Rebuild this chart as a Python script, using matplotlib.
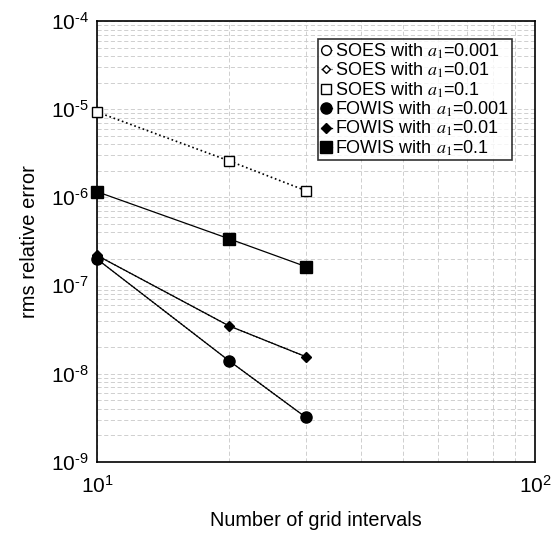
import matplotlib
matplotlib.use("Agg")
import matplotlib.pyplot as plt
from matplotlib.ticker import LogLocator, NullFormatter, FuncFormatter, FixedLocator
import math

plt.rcParams['font.family'] = ['Liberation Sans', 'DejaVu Sans']
plt.rcParams['mathtext.fontset'] = 'stix'

grid_n = [10, 20, 30]
soes_a0001 = [2.0e-7, 1.41e-8, 3.2e-9]
soes_a001 = [2.2e-7, 3.5e-8, 1.56e-8]
soes_a01 = [9.3e-6, 2.6e-6, 1.19e-6]
fowis_a0001 = [2.0e-7, 1.41e-8, 3.2e-9]
fowis_a001 = [2.2e-7, 3.5e-8, 1.56e-8]
fowis_a01 = [1.16e-6, 3.4e-7, 1.64e-7]
x_ticks = [1e1, 1e2]
y_ticks = [1e-9, 1e-8, 1e-7, 1e-6, 1e-5, 1e-4]

fig = plt.figure(figsize=(5.53, 5.38), dpi=100)
ax = fig.add_axes([0.1754, 0.1413, 0.7921, 0.8197])

lw = 0.9
ax.plot(grid_n, soes_a0001, ls=':', color='black', lw=lw, marker='o', ms=7,
        mfc='white', mec='black', label='SOES with $\\mathit{a}_1$=0.001', zorder=2, clip_on=False)
ax.plot(grid_n, soes_a001, ls=':', color='black', lw=lw, marker='D', ms=4,
        mfc='white', mec='black', label='SOES with $\\mathit{a}_1$=0.01', zorder=2, clip_on=False)
ax.plot(grid_n, soes_a01, ls=':', color='black', lw=1.2, marker='s', ms=7,
        mfc='white', mec='black', label='SOES with $\\mathit{a}_1$=0.1', zorder=3, clip_on=False)
ax.plot(grid_n, fowis_a0001, ls='-', color='black', lw=lw, marker='o', ms=8,
        mfc='black', mec='black', label='FOWIS with $\\mathit{a}_1$=0.001', zorder=4, clip_on=False)
ax.plot(grid_n, fowis_a001, ls='-', color='black', lw=lw, marker='D', ms=5,
        mfc='black', mec='black', label='FOWIS with $\\mathit{a}_1$=0.01', zorder=4, clip_on=False)
ax.plot(grid_n, fowis_a01, ls='-', color='black', lw=lw, marker='s', ms=8,
        mfc='black', mec='black', label='FOWIS with $\\mathit{a}_1$=0.1', zorder=4, clip_on=False)

ax.set_xscale('log')
ax.set_yscale('log')
ax.set_xlim(10, 100)
ax.set_ylim(1e-9, 1e-4)


def fmt(v, pos):
    e = int(round(math.log10(v)))
    if e >= 0:
        return '10$^{\\mathregular{%d}}$' % e
    return '10$^{\\text{-}\\mathregular{%d}}$' % (-e)


ax.xaxis.set_major_locator(FixedLocator(x_ticks))
ax.xaxis.set_minor_locator(LogLocator(base=10, subs=range(2, 10), numticks=10))
ax.xaxis.set_minor_formatter(NullFormatter())
ax.xaxis.set_major_formatter(FuncFormatter(fmt))
ax.yaxis.set_major_locator(FixedLocator(y_ticks))
ax.yaxis.set_minor_locator(LogLocator(base=10, subs=range(2, 10), numticks=10))
ax.yaxis.set_minor_formatter(NullFormatter())
ax.yaxis.set_major_formatter(FuncFormatter(fmt))

ax.grid(True, which='both', ls=(0, (5, 3)), color='#c8c8c8', lw=0.6)
ax.set_axisbelow(True)
ax.tick_params(which='both', direction='in', length=0, labelsize=15)
ax.tick_params(axis='x', pad=10)
ax.tick_params(axis='y', pad=6)

for s in ax.spines.values():
    s.set_linewidth(1.2)

ax.set_xlabel('Number of grid intervals', fontsize=14.3, labelpad=10)
ax.set_ylabel('rms relative error', fontsize=14.5, labelpad=8)

leg = ax.legend(loc='upper right', bbox_to_anchor=(0.947, 0.96), fontsize=13,
                frameon=True, fancybox=False, edgecolor='black', handlelength=0.6,
                handletextpad=0.2, borderpad=0.15, labelspacing=0.0, borderaxespad=0)
leg.get_frame().set_linewidth(1.2)

fig.savefig('out.png', dpi=100)
